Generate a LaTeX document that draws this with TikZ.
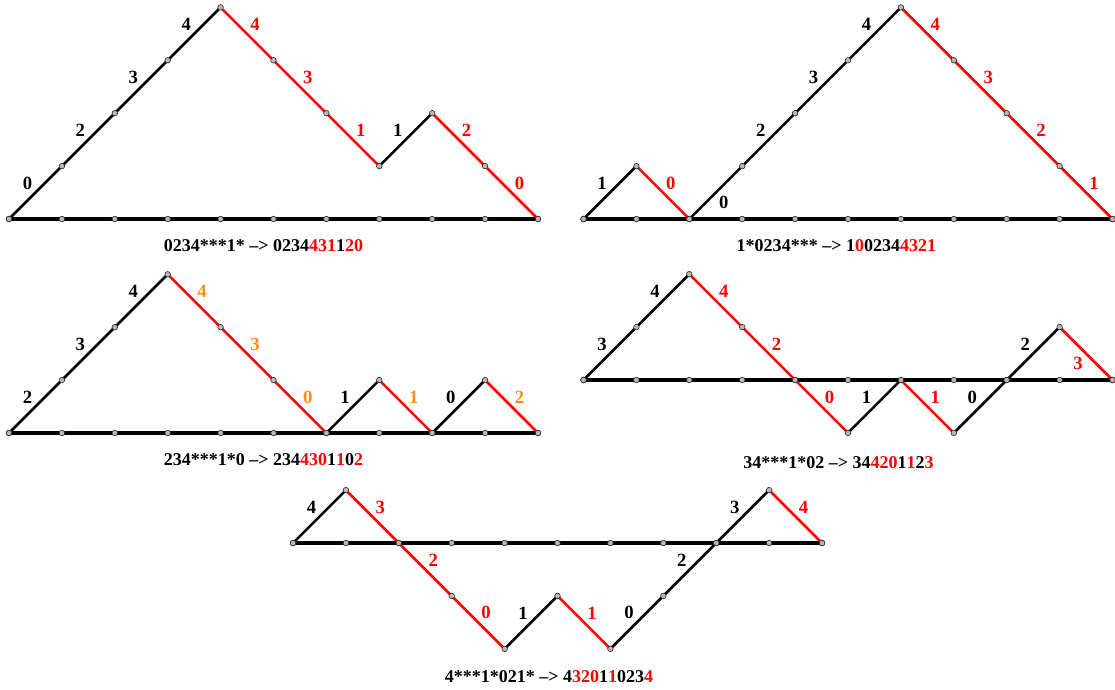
\documentclass[tikz,border=0pt]{standalone}
\usepackage{fontspec}
\setmainfont{Liberation Serif}
\usepackage{tikz}

\definecolor{lblorange}{RGB}{255,140,26}
\newcommand{\rd}[1]{\textcolor{red}{#1}}

\tikzset{
  axis/.style={line width=2.8pt, black},
  rise/.style={line width=1.9pt, line cap=round, black,
    every node/.style={above left, inner sep=1.5pt, black, font=\fontsize{14}{16}\selectfont\bfseries}},
  riselow/.style={rise, every node/.append style={below right}},
  fall/.style={line width=1.9pt, line cap=round, red,
    every node/.style={above right, inner sep=1.5pt, red, font=\fontsize{14}{16}\selectfont\bfseries}},
  fallin/.style={fall, every node/.append style={below left}},
  fallor/.style={fall, every node/.append style={lblorange}},
  vtx/.style={fill=gray!55, draw=gray!30!black, line width=0.45pt},
  captxt/.style={font=\fontsize{13.5}{16}\selectfont\bfseries}
}

\begin{document}
\begin{tikzpicture}[x=1.3944cm, y=1.3944cm]
    \useasboundingbox (0,0) rectangle (21.077,-13.025);

    % --- Path 1: 0234***1* ---
    \begin{scope}[shift={(0.17,-4.14)}]
        \draw[axis] (0,0) -- (10,0);
        \foreach \y [count=\i from 0] in {0,1,2,3,4,3,2,1,2,1,0}
            \coordinate (A\i) at (\i,\y);
        \foreach \l/\s [count=\j] in {0/rise,2/rise,3/rise,4/rise,4/fall,3/fall,1/fall,1/rise,2/fall,0/fall} {
            \pgfmathtruncatemacro{\k}{\j-1}
            \draw[\s] (A\k) -- node (Al\j) {\l} (A\j);
        }
        \foreach \i in {0,...,10} {
            \filldraw[vtx] (\i,0) circle (2.1pt);
            \filldraw[vtx] (A\i) circle (2.1pt);
        }
        \node[captxt] (Acap) at (4.81,-0.5) {0234***1* –> 0234\rd{431}1\rd{20}};
    \end{scope}

    % --- Path 2: 1*0234*** ---
    \begin{scope}[shift={(11.03,-4.14)}]
        \draw[axis] (0,0) -- (10,0);
        \foreach \y [count=\i from 0] in {0,1,0,1,2,3,4,3,2,1,0}
            \coordinate (B\i) at (\i,\y);
        \foreach \l/\s [count=\j] in {1/rise,0/fall,0/riselow,2/rise,3/rise,4/rise,4/fall,3/fall,2/fall,1/fall} {
            \pgfmathtruncatemacro{\k}{\j-1}
            \draw[\s] (B\k) -- node (Bl\j) {\l} (B\j);
        }
        \foreach \i in {0,...,10} {
            \filldraw[vtx] (\i,0) circle (2.1pt);
            \filldraw[vtx] (B\i) circle (2.1pt);
        }
        \node[captxt] (Bcap) at (4.78,-0.5) {1*0234*** –> 1\rd{0}0234\rd{4321}};
    \end{scope}

    % --- Path 3: 234***1*0 ---
    \begin{scope}[shift={(0.17,-8.185)}]
        \draw[axis] (0,0) -- (10,0);
        \foreach \y [count=\i from 0] in {0,1,2,3,2,1,0,1,0,1,0}
            \coordinate (C\i) at (\i,\y);
        \foreach \l/\s [count=\j] in {2/rise,3/rise,4/rise,4/fallor,3/fallor,0/fallor,1/rise,1/fallor,0/rise,2/fallor} {
            \pgfmathtruncatemacro{\k}{\j-1}
            \draw[\s] (C\k) -- node (Cl\j) {\l} (C\j);
        }
        \foreach \i in {0,...,10} {
            \filldraw[vtx] (\i,0) circle (2.1pt);
            \filldraw[vtx] (C\i) circle (2.1pt);
        }
        \node[captxt] (Ccap) at (4.81,-0.5) {234***1*0 –> 234\rd{430}1\rd{1}0\rd{2}};
    \end{scope}

    % --- Path 4: 34***1*02 ---
    \begin{scope}[shift={(11.03,-7.183)}]
        \draw[axis] (0,0) -- (10,0);
        \foreach \y [count=\i from 0] in {0,1,2,1,0,-1,0,-1,0,1,0}
            \coordinate (D\i) at (\i,\y);
        \foreach \l/\s [count=\j] in {3/rise,4/rise,4/fall,2/fall,0/fall,1/rise,1/fall,0/rise,2/rise,3/fallin} {
            \pgfmathtruncatemacro{\k}{\j-1}
            \draw[\s] (D\k) -- node (Dl\j) {\l} (D\j);
        }
        \foreach \i in {0,...,10} {
            \filldraw[vtx] (\i,0) circle (2.1pt);
            \filldraw[vtx] (D\i) circle (2.1pt);
        }
        \node[captxt] (Dcap) at (4.82,-1.57) {34***1*02 –> 34\rd{420}1\rd{1}2\rd{3}};
    \end{scope}

    % --- Path 5: 4***1*021* ---
    \begin{scope}[shift={(5.539,-10.265)}]
        \draw[axis] (0,0) -- (10,0);
        \foreach \y [count=\i from 0] in {0,1,0,-1,-2,-1,-2,-1,0,1,0}
            \coordinate (E\i) at (\i,\y);
        \foreach \l/\s [count=\j] in {4/rise,3/fall,2/fall,0/fall,1/rise,1/fall,0/rise,2/rise,3/rise,4/fall} {
            \pgfmathtruncatemacro{\k}{\j-1}
            \draw[\s] (E\k) -- node (El\j) {\l} (E\j);
        }
        \foreach \i in {0,...,10} {
            \filldraw[vtx] (\i,0) circle (2.1pt);
            \filldraw[vtx] (E\i) circle (2.1pt);
        }
        \node[captxt] (Ecap) at (4.84,-2.53) {4***1*021* –> 4\rd{320}1\rd{1}023\rd{4}};
    \end{scope}
\end{tikzpicture}
\end{document}
